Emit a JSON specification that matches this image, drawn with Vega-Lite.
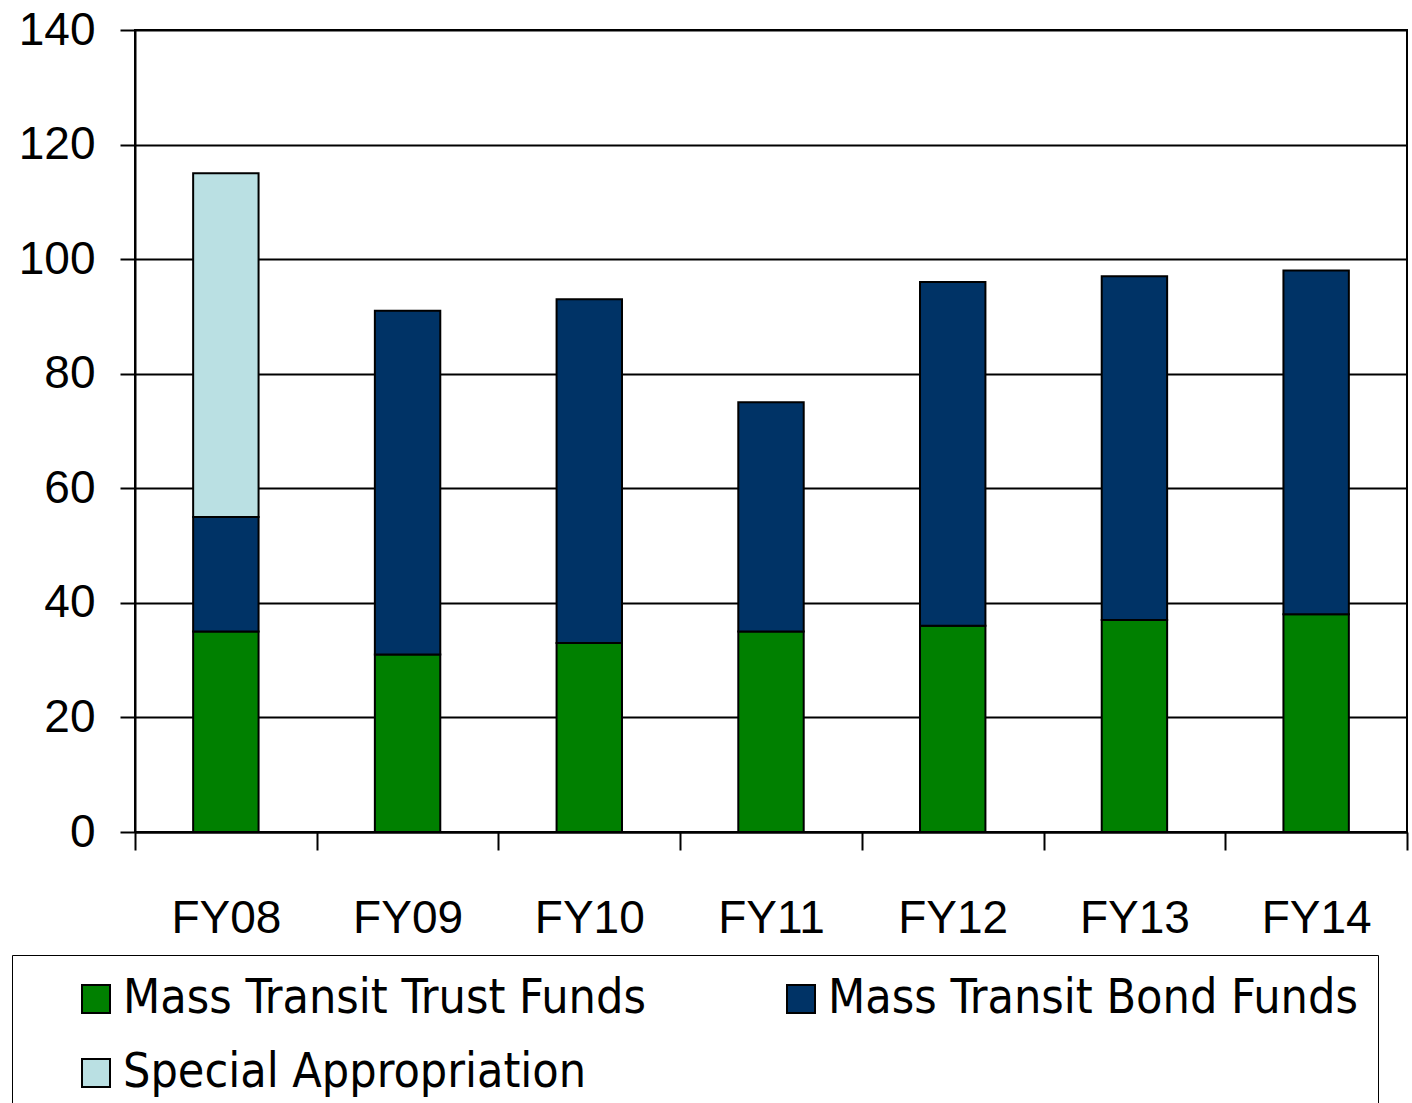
{
  "$schema": "https://vega.github.io/schema/vega-lite/v6.json",
  "width": 1272,
  "height": 802,
  "autosize": {"type": "none"},
  "padding": {"left": 135, "top": 30, "right": 5, "bottom": 271},
  "background": "white",
  "config": {
    "view": {"stroke": "black", "strokeWidth": 2},
    "axis": {"labelFont": "Liberation Sans", "labelColor": "black", "domainColor": "black", "tickColor": "black", "gridColor": "black"}
  },
  "data": {
    "values": [
      {"year": "FY08", "series": "Mass Transit Trust Funds", "value": 35, "ord": 1},
      {"year": "FY08", "series": "Mass Transit Bond Funds", "value": 20, "ord": 2},
      {"year": "FY08", "series": "Special Appropriation", "value": 60, "ord": 3},
      {"year": "FY09", "series": "Mass Transit Trust Funds", "value": 31, "ord": 1},
      {"year": "FY09", "series": "Mass Transit Bond Funds", "value": 60, "ord": 2},
      {"year": "FY10", "series": "Mass Transit Trust Funds", "value": 33, "ord": 1},
      {"year": "FY10", "series": "Mass Transit Bond Funds", "value": 60, "ord": 2},
      {"year": "FY11", "series": "Mass Transit Trust Funds", "value": 35, "ord": 1},
      {"year": "FY11", "series": "Mass Transit Bond Funds", "value": 40, "ord": 2},
      {"year": "FY12", "series": "Mass Transit Trust Funds", "value": 36, "ord": 1},
      {"year": "FY12", "series": "Mass Transit Bond Funds", "value": 60, "ord": 2},
      {"year": "FY13", "series": "Mass Transit Trust Funds", "value": 37, "ord": 1},
      {"year": "FY13", "series": "Mass Transit Bond Funds", "value": 60, "ord": 2},
      {"year": "FY14", "series": "Mass Transit Trust Funds", "value": 38, "ord": 1},
      {"year": "FY14", "series": "Mass Transit Bond Funds", "value": 60, "ord": 2}
    ]
  },
  "mark": {"type": "bar", "stroke": "black", "strokeWidth": 2, "width": {"band": 0.36}},
  "encoding": {
    "x": {
      "field": "year", "type": "nominal", "title": null,
      "scale": {"paddingInner": 0, "paddingOuter": 0},
      "axis": {"labelAngle": 0, "labelFontSize": 46, "labelPadding": 46, "tickSize": 18, "tickWidth": 2, "tickBand": "extent", "domainWidth": 2, "grid": false}
    },
    "y": {
      "field": "value", "type": "quantitative", "aggregate": "sum", "stack": "zero", "title": null,
      "scale": {"domain": [0, 140], "nice": false},
      "axis": {"values": [0, 20, 40, 60, 80, 100, 120, 140], "labelFontSize": 46, "labelPadding": 25, "tickSize": 15, "tickWidth": 2, "gridWidth": 2, "domainWidth": 2}
    },
    "order": {"field": "ord", "type": "quantitative"},
    "color": {
      "field": "series", "type": "nominal",
      "scale": {
        "domain": ["Mass Transit Trust Funds", "Special Appropriation", "Mass Transit Bond Funds"],
        "range": ["#008000", "#BAE0E3", "#003366"]
      },
      "legend": {
        "title": null,
        "orient": "none",
        "legendX": -123,
        "legendY": 925,
        "columns": 2,
        "columnPadding": 91,
        "rowPadding": 26,
        "padding": 20,
        "symbolOffset": 40,
        "symbolType": "square",
        "symbolSize": 784,
        "symbolStrokeColor": "black",
        "symbolStrokeWidth": 2,
        "labelFont": "Liberation Sans Narrow, DejaVu Sans Condensed, sans-serif",
        "labelFontSize": 48,
        "labelColor": "black",
        "labelOffset": 3,
        "labelLimit": 800,
        "strokeColor": "black",
        "fillColor": "white"
      }
    }
  }
}
